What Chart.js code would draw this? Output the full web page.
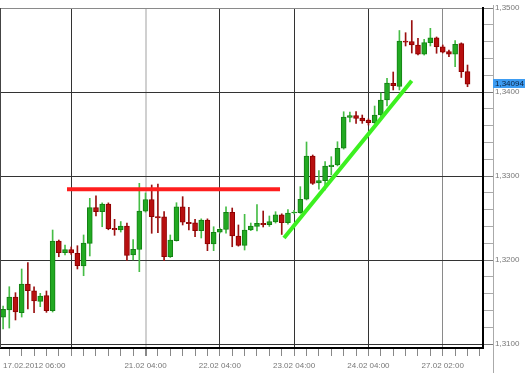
<!DOCTYPE html>
<html>
<head>
<meta charset="utf-8">
<script src="https://cdn.jsdelivr.net/npm/chart.js@4.4.1/dist/chart.umd.min.js"></script>
<style>
  html, body { margin: 0; padding: 0; background: #fff; }
  canvas { display: block; }
</style>
</head>
<body>
<canvas id="chart" width="530" height="373"></canvas>
<script>
// ---------------- Candle data (2h bars) ----------------
const opens = [
  1.31318, 1.31405, 1.31559, 1.31373, 1.31714, 1.31634, 1.31508, 1.31575, 1.31396, 1.32226,
  1.32087, 1.32123, 1.32080, 1.31929, 1.32198, 1.32623, 1.32575, 1.32667, 1.32377, 1.32357,
  1.32405, 1.32060, 1.32125, 1.32580, 1.32720, 1.32517, 1.32515, 1.32039, 1.32230, 1.32634,
  1.32449, 1.32444, 1.32349, 1.32476, 1.32190, 1.32330, 1.32363, 1.32568, 1.32286, 1.32175,
  1.32357, 1.32401, 1.32437, 1.32420, 1.32452, 1.32539, 1.32444, 1.32560, 1.32563, 1.32723,
  1.33238, 1.32917, 1.32944, 1.33111, 1.33131, 1.33330, 1.33698, 1.33720, 1.33690, 1.33667,
  1.33634, 1.33726, 1.33905, 1.34103, 1.34065, 1.34607, 1.34601, 1.34560, 1.34449, 1.34587,
  1.34646, 1.34539, 1.34480, 1.34449, 1.34575, 1.34242
];
const highs = [
  1.31452, 1.31682, 1.31611, 1.31893, 1.31968, 1.31682, 1.31603, 1.31631, 1.32357, 1.32238,
  1.32179, 1.32155, 1.32170, 1.32298, 1.32734, 1.32765, 1.32680, 1.32680, 1.32484, 1.32458,
  1.32440, 1.32244, 1.32913, 1.32798, 1.32893, 1.32905, 1.32575, 1.32298, 1.32682, 1.32754,
  1.32627, 1.32484, 1.32490, 1.32490, 1.32396, 1.32380, 1.32634, 1.32619, 1.32417, 1.32544,
  1.32440, 1.32661, 1.32583, 1.32524, 1.32575, 1.32550, 1.32599, 1.32590, 1.32873, 1.33405,
  1.33250, 1.33065, 1.33173, 1.33230, 1.33408, 1.33765, 1.33762, 1.33768, 1.33726, 1.33680,
  1.33833, 1.33988, 1.34163, 1.34238, 1.34732, 1.34706, 1.34851, 1.34639, 1.34627, 1.34758,
  1.34655, 1.34560, 1.34500, 1.34613, 1.34585, 1.34321
];
const lows = [
  1.31179, 1.31190, 1.31286, 1.31321, 1.31417, 1.31373, 1.31444, 1.31377, 1.31381, 1.32039,
  1.32060, 1.32066, 1.31893, 1.31813, 1.32048, 1.32524, 1.32396, 1.32360, 1.32294, 1.32333,
  1.31994, 1.32000, 1.31861, 1.32570, 1.32318, 1.32325, 1.31992, 1.32030, 1.32225, 1.32417,
  1.32357, 1.32277, 1.32262, 1.32111, 1.32111, 1.32320, 1.32318, 1.32158, 1.32165, 1.32119,
  1.32350, 1.32345, 1.32393, 1.32400, 1.32440, 1.32304, 1.32428, 1.32550, 1.32555, 1.32715,
  1.32900, 1.32842, 1.32833, 1.33012, 1.33120, 1.33320, 1.33643, 1.33627, 1.33627, 1.33607,
  1.33625, 1.33702, 1.33833, 1.34024, 1.34024, 1.34548, 1.34464, 1.34440, 1.34440, 1.34548,
  1.34461, 1.34465, 1.34420, 1.34301, 1.34173, 1.34063
];
const closes = [
  1.31413, 1.31559, 1.31381, 1.31714, 1.31634, 1.31512, 1.31571, 1.31396, 1.32226, 1.32087,
  1.32123, 1.32083, 1.31932, 1.32202, 1.32623, 1.32575, 1.32667, 1.32373, 1.32360, 1.32405,
  1.32054, 1.32127, 1.32583, 1.32720, 1.32515, 1.32502, 1.32039, 1.32238, 1.32634, 1.32449,
  1.32432, 1.32349, 1.32476, 1.32190, 1.32330, 1.32365, 1.32568, 1.32286, 1.32175, 1.32357,
  1.32405, 1.32437, 1.32420, 1.32456, 1.32539, 1.32444, 1.32560, 1.32571, 1.32723, 1.33238,
  1.32913, 1.32944, 1.33119, 1.33131, 1.33330, 1.33702, 1.33720, 1.33684, 1.33655, 1.33634,
  1.33726, 1.33905, 1.34107, 1.34075, 1.34607, 1.34592, 1.34560, 1.34449, 1.34587, 1.34646,
  1.34539, 1.34473, 1.34449, 1.34568, 1.34242, 1.34094
];

// ---------------- Axis texts ----------------
const slotCount = 78; // 76 candles + 2 empty slots on the right
const xTickLabels = {
  0: "17.02.2012 06:00",
  23: "21.02 04:00",
  35: "22.02 04:00",
  47: "23.02 04:00",
  59: "24.02 04:00",
  71: "27.02 02:00"
};
const xGridDark = [11, 35, 47, 59];
const xGridLight = [23];
const xGridMid = [71];
const yMajor = [1.31, 1.32, 1.33, 1.34, 1.35];
const yTickLabels = ["1,3100", "1,3200", "1,3300", "1,3400", "1,3500"];
const lastPrice = 1.34094;
const lastPriceLabel = "1,34094";

// ---------------- Drawn lines ----------------
const resistance = [{ x: 10.32, y: 1.32842 }, { x: 44.72, y: 1.32842 }];
const trendLine = [{ x: 45.36, y: 1.32262 }, { x: 65.99, y: 1.34134 }];

const categories = Array.from({ length: slotCount }, (_, i) => String(i));
const bodies = opens.map((o, i) => [o, closes[i]]);
const wicks = lows.map((l, i) => [l, highs[i]]);
const isUp = opens.map((o, i) => closes[i] >= o);

const GREEN = "#22a922", GREEN_EDGE = "#148014", GREEN_WICK = "#46bd46";
const RED = "#b80f0f", RED_EDGE = "#8c0000", RED_WICK = "#9a1010";

function isMajor(v) {
  return Math.abs(v * 100 - Math.round(v * 100)) < 1e-6;
}

// frame lines and the last price box
const chartFrame = {
  id: "chartFrame",
  afterDraw(chart) {
    const { ctx, chartArea: a, scales } = chart;
    ctx.save();
    ctx.lineWidth = 1;
    ctx.strokeStyle = "#444";
    ctx.beginPath();
    ctx.moveTo(a.left + 0.5, a.top);
    ctx.lineTo(a.left + 0.5, a.bottom);
    ctx.stroke();
    ctx.strokeStyle = "#aaa";
    ctx.beginPath();
    ctx.moveTo(a.right + 10.5, a.top - 3);
    ctx.lineTo(a.right + 10.5, chart.height);
    ctx.stroke();

    const py = Math.round(scales.y.getPixelForValue(lastPrice));
    ctx.fillStyle = "#3d9cf2";
    ctx.fillRect(a.right + 10, py - 5, 32, 9);
    ctx.fillStyle = "#0b2240";
    ctx.font = '8px "Liberation Sans"';
    ctx.textBaseline = "middle";
    ctx.fillText(lastPriceLabel, a.right + 12, py);
    ctx.restore();
  }
};

Chart.defaults.font.family = '"Liberation Sans", Arial, sans-serif';
Chart.defaults.font.size = 8;

new Chart(document.getElementById("chart"), {
  type: "bar",
  data: {
    labels: categories,
    datasets: [
      {
        type: "line",
        xAxisID: "x2",
        data: resistance,
        borderColor: "#ff1e1e",
        borderWidth: 4,
        borderCapStyle: "butt",
        pointRadius: 0,
        order: 0
      },
      {
        type: "line",
        xAxisID: "x2",
        data: trendLine,
        borderColor: "#3cf020",
        borderWidth: 4,
        borderCapStyle: "butt",
        pointRadius: 0,
        order: 0
      },
      {
        data: bodies,
        grouped: false,
        barThickness: 5,
        minBarLength: 1,
        borderWidth: 1,
        borderSkipped: false,
        backgroundColor: isUp.map(u => (u ? GREEN : RED)),
        borderColor: isUp.map(u => (u ? GREEN_EDGE : RED_EDGE)),
        order: 1
      },
      {
        data: wicks,
        grouped: false,
        barThickness: 1,
        backgroundColor: isUp.map(u => (u ? GREEN_WICK : RED_WICK)),
        order: 2
      }
    ]
  },
  options: {
    responsive: false,
    animation: false,
    devicePixelRatio: 1,
    layout: { padding: { top: 8, left: 0, right: 0, bottom: 0 } },
    plugins: { legend: { display: false }, tooltip: { enabled: false } },
    scales: {
      x: {
        type: "category",
        offset: true,
        grid: {
          offset: false,
          color: ctx =>
            xGridDark.includes(ctx.index) ? "#333"
            : xGridLight.includes(ctx.index) ? "#d0d0d0"
            : xGridMid.includes(ctx.index) ? "#8a8a8a"
            : "rgba(0,0,0,0)",
          lineWidth: ctx => (xGridLight.includes(ctx.index) ? 2 : 1),
          tickColor: ctx => (ctx.index % 2 === 1 ? "#888" : "rgba(0,0,0,0)"),
          tickLength: 8
        },
        border: { color: "#000", width: 2 },
        ticks: {
          autoSkip: false,
          maxRotation: 0,
          minRotation: 0,
          align: "inner",
          padding: 5,
          color: "#777",
          font: { size: 8 },
          callback: (v, i) => xTickLabels[i] || ""
        },
        afterFit: scale => {
          scale.height = 25;
          scale.paddingLeft = 0;
          scale.paddingRight = 0;
        }
      },
      x2: {
        type: "linear",
        display: false,
        offset: false,
        min: -0.5,
        max: slotCount - 0.5
      },
      y: {
        position: "right",
        min: 1.309524,
        max: 1.35,
        afterBuildTicks: scale => {
          const ticks = [];
          for (let k = 1310; k <= 1350; k++) ticks.push({ value: k / 1000 });
          scale.ticks = ticks;
        },
        grid: {
          color: ctx =>
            !isMajor(ctx.tick.value) ? "rgba(0,0,0,0)"
            : ctx.tick.value > 1.3495 ? "#8a8a8a" : "#333",
          tickColor: ctx => (isMajor(ctx.tick.value) ? "#777" : "#aaa"),
          tickLength: 10
        },
        border: { color: "#000", width: 2 },
        ticks: {
          padding: 2,
          color: "#777",
          font: { size: 8 },
          callback: v => {
            const idx = yMajor.findIndex(m => Math.abs(m - v) < 1e-6);
            return idx >= 0 ? yTickLabels[idx] : "";
          }
        },
        afterFit: scale => {
          scale.width = 47;
          scale.paddingTop = 0;
          scale.paddingBottom = 0;
        }
      }
    }
  },
  plugins: [chartFrame]
});
</script>
</body>
</html>
